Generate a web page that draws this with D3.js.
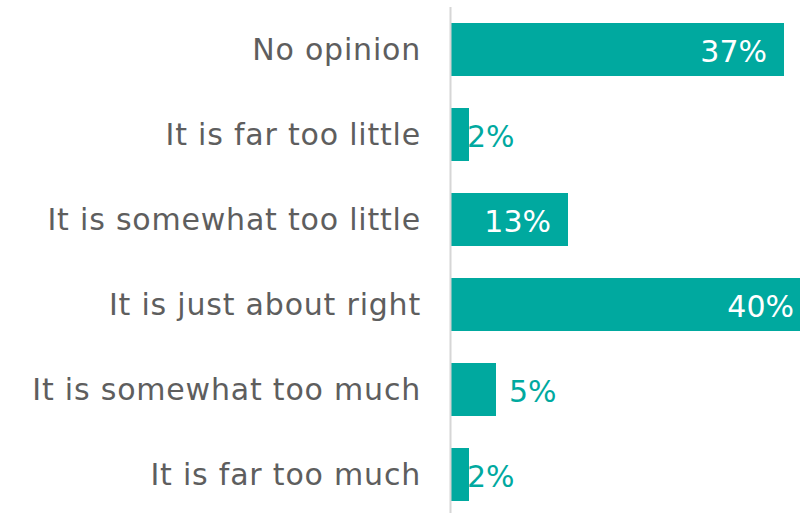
<!DOCTYPE html>
<html>
<head>
<meta charset="utf-8">
<script src="https://cdn.jsdelivr.net/npm/d3@7"></script>
<style>
  html, body { margin: 0; padding: 0; background: #fff; }
  svg { display: block; }
  text { font-family: "DejaVu Sans", sans-serif; }
</style>
</head>
<body>
<svg id="chart" width="800" height="513"></svg>
<script>
// Survey answers, top to bottom
const categories = [
  "No opinion",
  "It is far too little",
  "It is somewhat too little",
  "It is just about right",
  "It is somewhat too much",
  "It is far too much"
];
const values = [37, 2, 13, 40, 5, 2];

const W = 800, H = 513;
const x0 = 451;
const teal = "#00a99f";

const svg = d3.select("#chart");

const y = d3.scaleBand()
  .domain(categories)
  .range([7, 517])
  .paddingInner(32 / 85)
  .paddingOuter(16 / 85);

const x = d3.scaleLinear()
  .domain([0, 40])
  .range([x0, x0 + 360]);

const data = categories.map((c, i) => ({ c, v: values[i] }));

// bars
svg.append("g")
  .selectAll("rect")
  .data(data)
  .join("rect")
  .attr("x", x(0))
  .attr("y", d => y(d.c))
  .attr("width", d => x(d.v) - x(0))
  .attr("height", y.bandwidth())
  .attr("fill", teal);

// vertical baseline
svg.append("line")
  .attr("x1", x0 - 0.5).attr("x2", x0 - 0.5)
  .attr("y1", 7).attr("y2", H)
  .attr("stroke", "#d6d6d6")
  .attr("stroke-width", 2);

// category labels
svg.append("g")
  .selectAll("text")
  .data(data)
  .join("text")
  .attr("x", 421)
  .attr("y", d => y(d.c) + y.bandwidth() / 2 + 10)
  .attr("text-anchor", "end")
  .attr("font-size", 30)
  .attr("letter-spacing", 0.8)
  .attr("fill", "#5e5e5e")
  .text(d => d.c);

// value labels: inside for long bars, outside for short ones
svg.append("g")
  .selectAll("text")
  .data(data)
  .join("text")
  .attr("x", d => d.v >= 10 ? x(d.v) - 17 : (d.v >= 4 ? x(d.v) + 13 : x(d.v) - 2))
  .attr("y", d => y(d.c) + y.bandwidth() / 2 + 12)
  .attr("text-anchor", d => d.v >= 10 ? "end" : "start")
  .attr("font-size", 30)
  .attr("fill", d => d.v >= 10 ? "#fff" : teal)
  .text(d => d.v + "%");
</script>
</body>
</html>
